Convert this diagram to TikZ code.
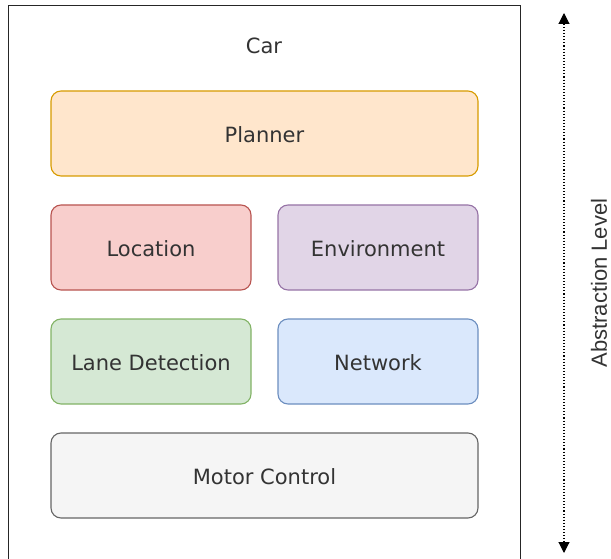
\documentclass[tikz,border=0pt]{standalone}
\usepackage{fontspec}
\setmainfont{DejaVu Sans}
\newfontfamily\sidefont{Liberation Sans}
\usetikzlibrary{positioning,arrows.meta}

\definecolor{orangeFill}{HTML}{FFE6CC}
\definecolor{orangeLine}{HTML}{D79B00}
\definecolor{redFill}{HTML}{F8CECC}
\definecolor{redLine}{HTML}{B85450}
\definecolor{purpleFill}{HTML}{E1D5E7}
\definecolor{purpleLine}{HTML}{9673A6}
\definecolor{greenFill}{HTML}{D5E8D4}
\definecolor{greenLine}{HTML}{82B366}
\definecolor{blueFill}{HTML}{DAE8FC}
\definecolor{blueLine}{HTML}{6C8EBF}
\definecolor{grayFill}{HTML}{F5F5F5}
\definecolor{grayLine}{HTML}{666666}
\definecolor{textGray}{HTML}{333333}

\begin{document}
\begin{tikzpicture}[
x=1pt, y=-1pt,
font=\fontsize{21}{24}\selectfont, text=textGray,
module/.style={rectangle, rounded corners=10pt, line width=1.1pt, inner sep=0pt, outer sep=0pt, text height=18pt, text depth=0pt, minimum height=85pt, minimum width=200pt},
wide/.style={module, minimum width=427pt},
frame/.style={rectangle, draw=black!85, line width=1.2pt, inner sep=0pt, minimum width=512pt, minimum height=600pt}
]
\useasboundingbox (0,0) rectangle (611,559);

%Nodes
\node[frame] (car) [anchor=north west] at (8,5) {};
\node (car_label) at (264,46) {Car};
\node[wide, fill=orangeFill, draw=orangeLine] (planner) [anchor=north west] at (51,91) {Planner};
\node[module, fill=redFill, draw=redLine] (location) [below right=29pt and 0pt of planner.south west] {Location};
\node[module, fill=purpleFill, draw=purpleLine] (environment) [below left=29pt and 0pt of planner.south east] {Environment};
\node[module, fill=greenFill, draw=greenLine] (lane) [below=29pt of location] {Lane Detection};
\node[module, fill=blueFill, draw=blueLine] (network) [below=29pt of environment] {Network};
\node[wide, fill=grayFill, draw=grayLine] (motor) [below right=29pt and 0pt of lane.south west] {Motor Control};

%Abstraction axis
\coordinate (level_top) at (564,13);
\coordinate (level_bottom) at (564,553);
\node[rotate=90, inner sep=0pt, font=\sidefont\fontsize{22}{26}\selectfont] (level) at (599,283) {Abstraction Level};

%Connections
\draw[line width=1.1pt, dotted, {Triangle[length=11pt,width=11pt]}-{Triangle[length=11pt,width=11pt]}] (level_top) -- (level_bottom);
\end{tikzpicture}
\end{document}
